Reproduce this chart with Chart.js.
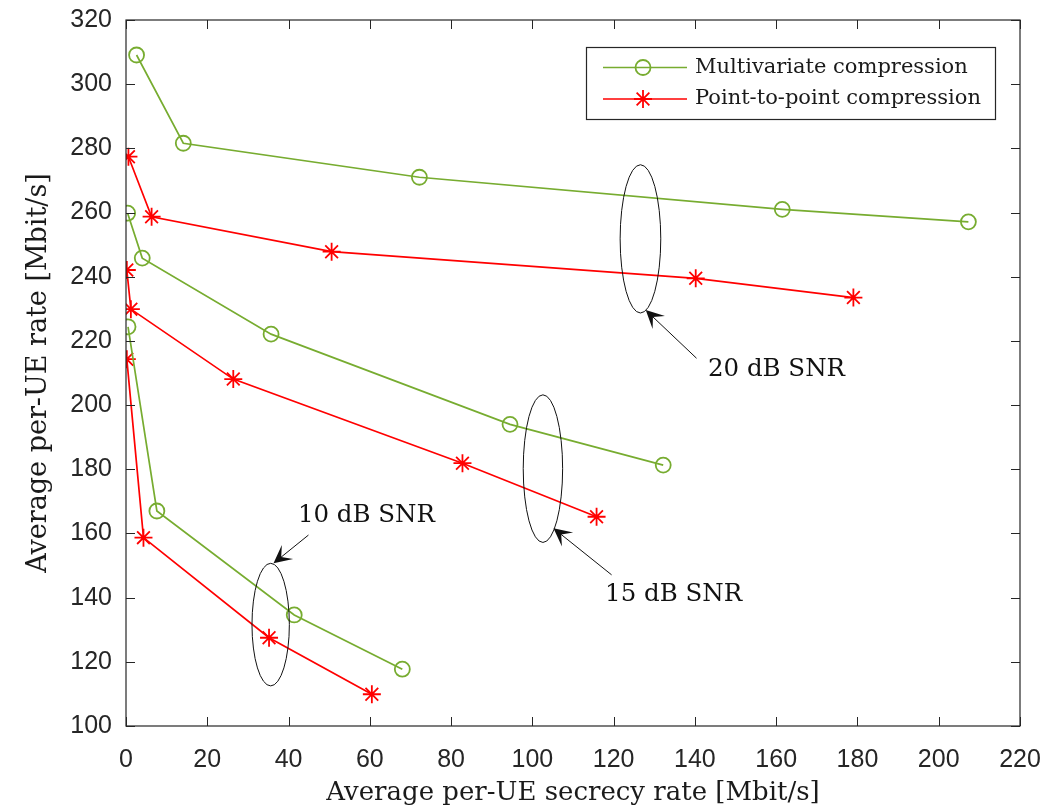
<!DOCTYPE html>
<html><head><meta charset="utf-8">
<script src="https://cdn.jsdelivr.net/npm/chart.js@4.4.0/dist/chart.umd.min.js"></script>
<style>html,body{margin:0;padding:0;background:#fff}canvas{display:block}</style>
</head><body>
<canvas id="c" width="1048" height="809"></canvas>
<script>
// ---- data ----
const seriesNames = ['Multivariate compression', 'Point-to-point compression'];
const snrLabels = ['20 dB SNR', '15 dB SNR', '10 dB SNR'];
const xTicks = [0, 20, 40, 60, 80, 100, 120, 140, 160, 180, 200, 220];
const yTicks = [100, 120, 140, 160, 180, 200, 220, 240, 260, 280, 300, 320];
const xTitle = 'Average per-UE secrecy rate [Mbit/s]';
const yTitle = 'Average per-UE rate [Mbit/s]';

const multi20X = [2.6, 14.1, 72.2, 161.5, 207.3];
const multi20Y = [309.1, 281.6, 271.0, 261.0, 257.1];
const p2p20X = [0.6, 6.3, 50.6, 140.2, 179.0];
const p2p20Y = [277.4, 258.7, 247.8, 239.5, 233.5];
const multi15X = [0.4, 4.0, 35.7, 94.5, 132.2];
const multi15Y = [259.8, 245.8, 222.1, 194.0, 181.3];
const p2p15X = [0.2, 1.2, 26.4, 82.8, 115.8];
const p2p15Y = [242.1, 229.9, 208.1, 181.9, 165.2];
const multi10X = [0.5, 7.6, 41.4, 68.0];
const multi10Y = [224.4, 167.0, 134.6, 117.7];
const p2p10X = [0.2, 4.3, 35.2, 60.5];
const p2p10Y = [214.3, 158.7, 127.5, 109.9];

// annotation geometry (data units): ellipse centre / radii, arrow tip / tail, text anchor
const ellipseCX = [126.6, 102.6, 35.6];
const ellipseCY = [251.8, 180.2, 131.6];
const ellipseRX = [5.0, 4.85, 4.6];
const ellipseRY = [23.1, 23.0, 19.1];
const arrowTipX = [127.9, 105.2, 36.3];
const arrowTipY = [229.6, 161.6, 150.7];
const arrowTailX = [140.4, 119.5, 44.9];
const arrowTailY = [214.6, 147.1, 159.5];
const textX = [143.2, 117.9, 42.3];
const textY = [211.2, 140.8, 165.4];

// ---- styles ----
const GREEN = '#77AC30';
const RED = '#FF0000';
const AXIS = '#262626';
const SERIF = '"DejaVu Serif", "Liberation Serif", serif';
const SANS = '"Liberation Sans", Arial, sans-serif';

const zip = (xs, ys) => xs.map((x, i) => ({x, y: ys[i]}));
function mk(name, xs, ys, kind) {
  const g = kind === 0;
  return {
    label: name,
    data: zip(xs, ys),
    showLine: true,
    borderColor: g ? GREEN : RED,
    backgroundColor: 'rgba(0,0,0,0)',
    borderWidth: 1.7,
    pointStyle: g ? 'circle' : 'star',
    pointRadius: g ? 7.5 : 9,
    pointBorderWidth: 1.8,
    pointBorderColor: g ? GREEN : RED,
    pointBackgroundColor: 'rgba(0,0,0,0)',
    pointHoverRadius: g ? 7.5 : 9,
    tension: 0
  };
}

const datasets = [
  mk(seriesNames[0], multi20X, multi20Y, 0),
  mk(seriesNames[1], p2p20X, p2p20Y, 1),
  mk(seriesNames[0], multi15X, multi15Y, 0),
  mk(seriesNames[1], p2p15X, p2p15Y, 1),
  mk(seriesNames[0], multi10X, multi10Y, 0),
  mk(seriesNames[1], p2p10X, p2p10Y, 1)
];

const framePlugin = {
  id: 'frame',
  afterDatasetsDraw(chart) {
    const {ctx, chartArea: a, scales: {x, y}} = chart;
    ctx.save();
    // box
    ctx.strokeStyle = AXIS; ctx.lineWidth = 1.2;
    ctx.strokeRect(a.left, a.top, a.right - a.left, a.bottom - a.top);
    // inward ticks
    const L = 9;
    ctx.beginPath();
    xTicks.forEach(v => {
      const p = Math.round(x.getPixelForValue(v)) + 0.5;
      ctx.moveTo(p, a.bottom); ctx.lineTo(p, a.bottom - L);
      ctx.moveTo(p, a.top); ctx.lineTo(p, a.top + L);
    });
    yTicks.forEach(v => {
      const p = Math.round(y.getPixelForValue(v)) + 0.5;
      ctx.moveTo(a.left, p); ctx.lineTo(a.left + L, p);
      ctx.moveTo(a.right, p); ctx.lineTo(a.right - L, p);
    });
    ctx.lineWidth = 1; ctx.stroke();

    // annotations
    ctx.lineWidth = 1;
    for (let i = 0; i < snrLabels.length; i++) {
      const cx = x.getPixelForValue(ellipseCX[i]);
      const cy = y.getPixelForValue(ellipseCY[i]);
      const rx = Math.abs(x.getPixelForValue(ellipseCX[i] + ellipseRX[i]) - cx);
      const ry = Math.abs(y.getPixelForValue(ellipseCY[i] + ellipseRY[i]) - cy);
      ctx.strokeStyle = '#111';
      ctx.beginPath(); ctx.ellipse(cx, cy, rx, ry, 0, 0, Math.PI * 2); ctx.stroke();

      const tx = x.getPixelForValue(arrowTipX[i]), ty = y.getPixelForValue(arrowTipY[i]);
      const sx = x.getPixelForValue(arrowTailX[i]), sy = y.getPixelForValue(arrowTailY[i]);
      const ang = Math.atan2(ty - sy, tx - sx);
      const hl = 18, hw = 9;
      const ux = Math.cos(ang), uy = Math.sin(ang);
      const bx = tx - ux * hl, by = ty - uy * hl;
      ctx.beginPath(); ctx.moveTo(sx, sy); ctx.lineTo(tx - ux * 8, ty - uy * 8); ctx.stroke();
      ctx.fillStyle = '#111';
      ctx.beginPath();
      ctx.moveTo(tx, ty);
      ctx.lineTo(bx - uy * hw, by + ux * hw);
      ctx.lineTo(tx - ux * hl * 0.55, ty - uy * hl * 0.55);
      ctx.lineTo(bx + uy * hw, by - ux * hw);
      ctx.closePath(); ctx.fill();

      ctx.font = '24.5px ' + SERIF;
      ctx.textAlign = 'left'; ctx.textBaseline = 'middle';
      ctx.fillText(snrLabels[i], x.getPixelForValue(textX[i]), y.getPixelForValue(textY[i]));
    }

    // legend
    const lx = a.right - 434, ly = a.top + 27, lw = 409, lh = 72;
    ctx.fillStyle = '#fff'; ctx.fillRect(lx, ly, lw, lh);
    ctx.strokeStyle = AXIS; ctx.lineWidth = 1.2; ctx.strokeRect(lx + 0.5, ly + 0.5, lw, lh);
    const rows = [ly + 20.5, ly + 52];
    const styles = [[GREEN, 'circle', 7.5], [RED, 'star', 9]];
    for (let r = 0; r < 2; r++) {
      const yy = rows[r];
      ctx.strokeStyle = styles[r][0]; ctx.lineWidth = 1.7;
      ctx.beginPath(); ctx.moveTo(lx + 17, yy); ctx.lineTo(lx + 101, yy); ctx.stroke();
      ctx.fillStyle = 'rgba(0,0,0,0)';
      ctx.lineWidth = 1.8;
      Chart.helpers.drawPoint(ctx, {pointStyle: styles[r][1], radius: styles[r][2], borderWidth: 1.8}, lx + 57, yy);
      ctx.font = '21px ' + SERIF; ctx.fillStyle = '#1a1a1a';
      ctx.textAlign = 'left'; ctx.textBaseline = 'middle';
      ctx.fillText(seriesNames[r], lx + 109, yy);
    }
    ctx.restore();
  }
};

new Chart(document.getElementById('c'), {
  type: 'scatter',
  data: {datasets},
  options: {
    responsive: false,
    devicePixelRatio: 1,
    animation: false,
    layout: {padding: {left: 0, right: 28, top: 20, bottom: 0}},
    plugins: {legend: {display: false}, tooltip: {enabled: false}},
    scales: {
      x: {
        type: 'linear', min: 0, max: 220,
        afterBuildTicks: s => { s.ticks = xTicks.map(v => ({value: v})); },
        afterFit: s => { s.height = 83; s.paddingLeft = 0; s.paddingRight = 0; },
        grid: {display: false, drawTicks: false},
        border: {display: false},
        ticks: {color: AXIS, font: {family: SANS, size: 25}, padding: 19, maxRotation: 0, autoSkip: false},
        title: {display: true, text: xTitle, color: '#1a1a1a', font: {family: SERIF, size: 26}, padding: {top: 0, bottom: 0}}
      },
      y: {
        type: 'linear', min: 100, max: 320,
        afterBuildTicks: s => { s.ticks = yTicks.map(v => ({value: v})); },
        afterFit: s => { s.width = 126; s.paddingTop = 0; s.paddingBottom = 0; },
        grid: {display: false, drawTicks: false},
        border: {display: false},
        ticks: {color: AXIS, font: {family: SANS, size: 25}, padding: 14, autoSkip: false},
        title: {display: true, text: yTitle, color: '#1a1a1a', font: {family: SERIF, size: 27}, padding: {top: 23, bottom: 0}}
      }
    }
  },
  plugins: [framePlugin]
});
</script>
</body></html>
